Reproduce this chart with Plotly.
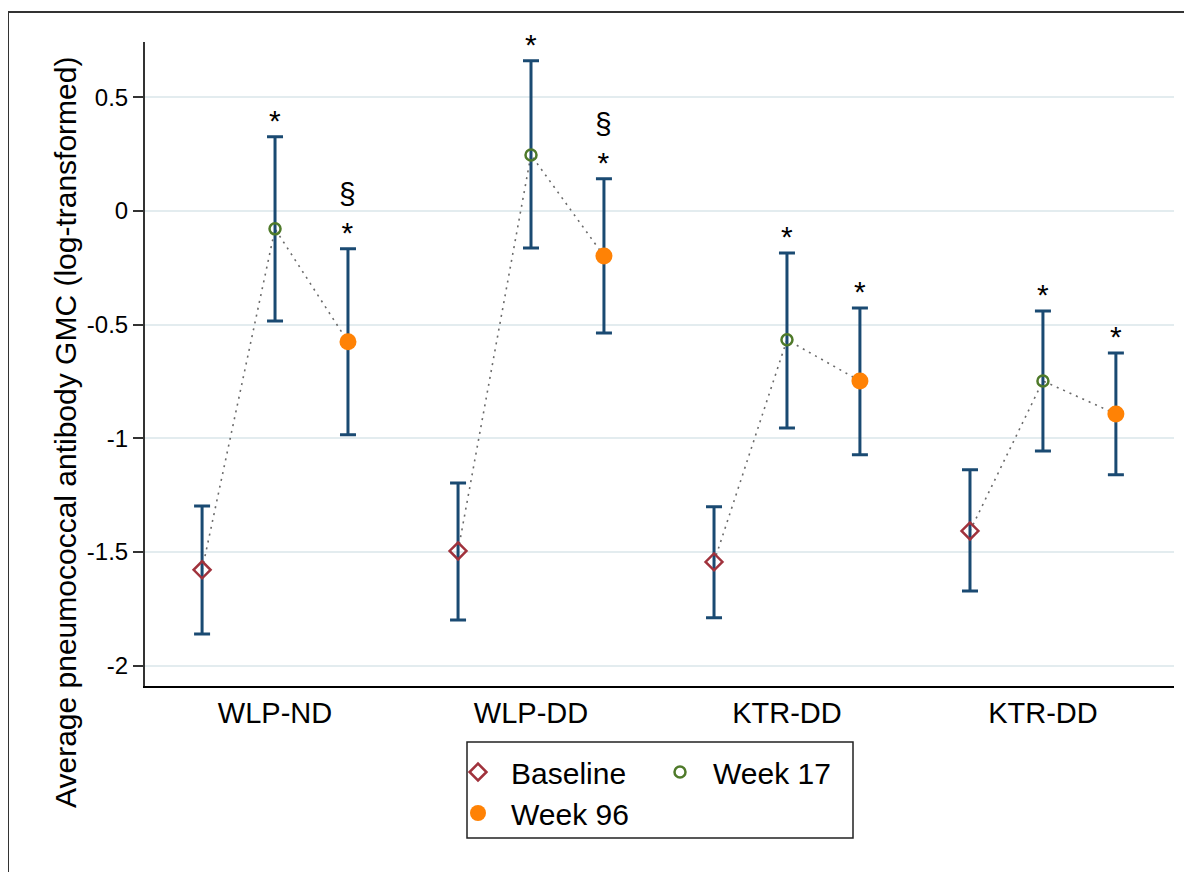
import plotly.graph_objects as go

# ---- data ----
groups = ["WLP-ND", "WLP-DD", "KTR-DD", "KTR-DD"]
group_pos = [1, 2, 3, 4]

baseline = [-1.579, -1.496, -1.544, -1.408]
baseline_lo = [-1.861, -1.800, -1.790, -1.672]
baseline_hi = [-1.298, -1.197, -1.302, -1.139]

week17 = [-0.079, 0.246, -0.567, -0.748]
week17_lo = [-0.484, -0.163, -0.955, -1.056]
week17_hi = [0.326, 0.660, -0.185, -0.440]

week96 = [-0.576, -0.198, -0.748, -0.893]
week96_lo = [-0.985, -0.537, -1.073, -1.161]
week96_hi = [-0.167, 0.141, -0.427, -0.625]

week17_sig = ["*", "*", "*", "*"]
week96_sig = ["§<br>*", "§<br>*", "*", "*"]

ytick_vals = [-2, -1.5, -1, -0.5, 0, 0.5]
ytick_text = ["-2", "-1.5", "-1", "-0.5", "0", "0.5"]

# ---- styling ----
FONT = "Liberation Sans, Arial, sans-serif"
OFFSET = 0.285
ERR_COLOR = "#1a4a72"
C_BASE = "#a0323c"
C_W17 = "#4f7a2a"
C_W96 = "#ff8205"

x_base = [g - OFFSET for g in group_pos]
x_w17 = list(group_pos)
x_w96 = [g + OFFSET for g in group_pos]

fig = go.Figure()

# dotted connecting lines per group
for i in range(len(groups)):
    fig.add_trace(go.Scatter(
        x=[x_base[i], x_w17[i], x_w96[i]],
        y=[baseline[i], week17[i], week96[i]],
        mode="lines",
        line=dict(color="#6a6a6a", width=1.6, dash="2px,5px"),
        showlegend=False, hoverinfo="skip"))


def err(vals, lo, hi):
    return dict(type="data", symmetric=False,
                array=[h - v for v, h in zip(vals, hi)],
                arrayminus=[v - l for v, l in zip(vals, lo)],
                color=ERR_COLOR, thickness=3, width=8)


fig.add_trace(go.Scatter(
    x=x_base, y=baseline, mode="markers", name="Baseline",
    marker=dict(symbol="diamond-open", size=13, color=C_BASE,
                line=dict(width=2.5, color=C_BASE)),
    error_y=err(baseline, baseline_lo, baseline_hi), legend="legend"))

fig.add_trace(go.Scatter(
    x=x_w17, y=week17, mode="markers", name="Week 17",
    marker=dict(symbol="circle-open", size=11, color=C_W17,
                line=dict(width=2.5, color=C_W17)),
    error_y=err(week17, week17_lo, week17_hi), legend="legend"))

fig.add_trace(go.Scatter(
    x=x_w96, y=week96, mode="markers", name="Week 96",
    marker=dict(symbol="circle", size=17, color=C_W96),
    error_y=err(week96, week96_lo, week96_hi), legend="legend2"))

# significance markers
for xs, his, labs in [(x_w17, week17_hi, week17_sig), (x_w96, week96_hi, week96_sig)]:
    for xv, hv, lab in zip(xs, his, labs):
        fig.add_annotation(x=xv, y=hv, text=lab, showarrow=False,
                           xanchor="center", yanchor="bottom", yshift=-2,
                           font=dict(family=FONT, size=30, color="black"))

# page geometry (the page body adds an 8px offset)
SH = 8
W, H = 1192 - SH, 872 - SH
L, T = 145 - SH, 42 - SH
R = W - (1174 - SH)
B = H - (686 - SH)
pw, ph = W - L - R, H - T - B


def px_x(p):
    return (p - SH - L) / pw


def px_y(p):
    return (H - B - (p - SH)) / ph


# y-axis title placed like the reference (centred on the whole figure)
fig.add_annotation(xref="paper", yref="paper", x=px_x(65), y=px_y(433),
                   text="Average pneumococcal antibody GMC (log-transformed)",
                   textangle=-90, showarrow=False, xanchor="center", yanchor="middle",
                   font=dict(family=FONT, size=30, color="black"))

fig.add_shape(type="rect", xref="paper", yref="paper",
              x0=px_x(8), x1=px_x(1210), y0=px_y(890), y1=px_y(12),
              line=dict(color="#333333", width=2), fillcolor="rgba(0,0,0,0)")
fig.add_shape(type="rect", xref="paper", yref="paper",
              x0=px_x(467), x1=px_x(853), y0=px_y(838), y1=px_y(742),
              line=dict(color="#222222", width=1.5), fillcolor="rgba(0,0,0,0)")

fig.update_layout(
    width=W, height=H,
    margin=dict(l=L, r=R, t=T, b=B),
    paper_bgcolor="white", plot_bgcolor="white",
    font=dict(family=FONT, color="black"),
    showlegend=True,
    legend=dict(orientation="h", x=px_x(445), y=px_y(746), xanchor="left", yanchor="top",
                itemwidth=56, entrywidth=131, entrywidthmode="pixels",
                font=dict(family=FONT, size=30), bgcolor="rgba(0,0,0,0)", borderwidth=0),
    legend2=dict(orientation="h", x=px_x(445), y=px_y(787), xanchor="left", yanchor="top",
                 itemwidth=56,
                 font=dict(family=FONT, size=30), bgcolor="rgba(0,0,0,0)", borderwidth=0),
    xaxis=dict(range=[0.492, 4.512], tickvals=group_pos, ticktext=groups,
               showline=True, linecolor="black", linewidth=2, ticks="",
               showgrid=False, zeroline=False,
               tickfont=dict(family=FONT, size=29, color="black")),
    yaxis=dict(range=[-2.09, 0.743], tickvals=ytick_vals, ticktext=ytick_text,
               showline=True, linecolor="#333333", linewidth=2,
               ticks="outside", ticklen=10, tickwidth=2, tickcolor="#333333",
               showgrid=True, gridcolor="#e3ecef", gridwidth=2, zeroline=False,
               tickfont=dict(family=FONT, size=24, color="black")),
)

fig.write_html("out.html")
